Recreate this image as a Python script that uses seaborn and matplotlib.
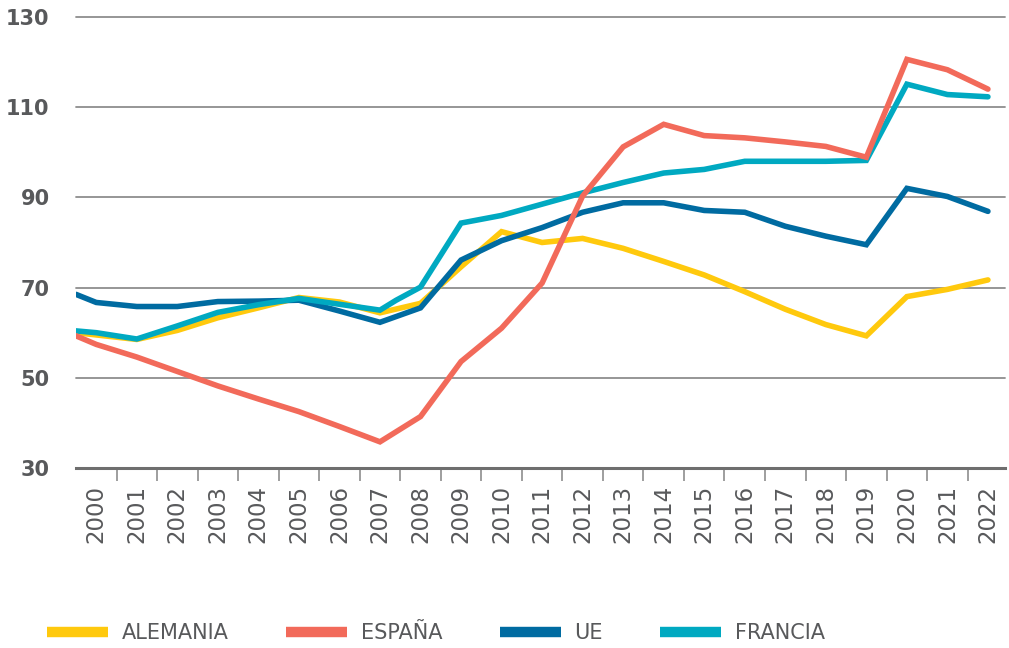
import numpy as np
import pandas as pd
import seaborn as sns
import matplotlib.pyplot as plt
from matplotlib.lines import Line2D

# categories (x axis)
years = list(range(2000, 2023))

# series; the lines start at the left edge of the plot (1999.5)
alemania_x = [1999.5] + years
alemania = [60.0, 59.5, 58.5, 60.5, 63.3, 65.5, 67.8, 66.8, 64.4, 66.5, 74.6, 82.4,
            80.0, 80.9, 78.7, 75.8, 72.8, 69.1, 65.2, 61.8, 59.3, 68.0, 69.6, 71.7]

espana_x = [1999.5] + years
espana = [59.3, 57.4, 54.6, 51.4, 48.2, 45.3, 42.5, 39.2, 35.8, 41.4, 53.6, 61.0,
          71.0, 90.3, 101.2, 106.2, 103.7, 103.2, 102.3, 101.3, 98.9, 120.6, 118.3, 114.0]

ue_x = [1999.5] + years
ue = [68.5, 66.7, 65.8, 65.8, 66.9, 67.0, 67.2, 64.8, 62.3, 65.5, 76.1, 80.4,
      83.3, 86.7, 88.8, 88.8, 87.1, 86.7, 83.6, 81.4, 79.5, 92.0, 90.2, 86.9]

francia_x = [1999.5] + years[:8] + [2007.4] + years[8:]
francia = [60.4, 60.0, 58.6, 61.5, 64.5, 66.2, 67.6, 66.3, 65.0, 67.2, 70.1, 84.3,
           86.0, 88.5, 91.0, 93.3, 95.4, 96.2, 98.0, 98.0, 98.0, 98.2, 115.1, 112.8, 112.3]

names = ['ALEMANIA', 'ESPAÑA', 'UE', 'FRANCIA']
colors = {'ALEMANIA': '#FFC90D', 'ESPAÑA': '#F26A5A', 'UE': '#006BA1', 'FRANCIA': '#00A9C1'}

sns.set_style('white')
plt.rcParams['font.family'] = ['DejaVu Sans']
text_col = '#58595B'

fig = plt.figure(figsize=(10.09, 6.48), dpi=100)
ax = fig.add_axes([0.0753, 0.2778, 0.9207, 0.696])

# drawing order as in the reference (yellow at the bottom, coral on top)
series = {
    'ALEMANIA': (alemania_x, alemania),
    'UE': (ue_x, ue),
    'FRANCIA': (francia_x, francia),
    'ESPAÑA': (espana_x, espana),
}
for z, (name, (xs, ys)) in enumerate(series.items()):
    df = pd.DataFrame({'x': xs, 'y': ys})
    sns.lineplot(data=df, x='x', y='y', ax=ax, sort=False, color=colors[name],
                 linewidth=4, zorder=3 + z, solid_joinstyle='miter')

ax.set_xlim(1999.5, 2022.42)
ax.set_ylim(30, 130)
ax.set_xlabel('')
ax.set_ylabel('')

# y axis
ax.set_yticks(range(30, 131, 20))
ax.set_yticklabels([str(v) for v in range(30, 131, 20)], fontsize=15,
                   fontweight='bold', color=text_col)
ax.tick_params(axis='y', length=0, pad=19)
ax.yaxis.grid(True, color='#8E8E8E', linewidth=1.3)
for gl in ax.get_ygridlines():
    gl.set_clip_on(False)

# x axis: labels at centers, small marks between categories
ax.set_xticks(years)
ax.set_xticklabels([str(y) for y in years], rotation=90, fontsize=16.5,
                   color=text_col)
ax.set_xticks([y + 0.5 for y in years[:-1]], minor=True)
ax.tick_params(axis='x', which='major', length=0, pad=12)
ax.tick_params(axis='x', which='minor', length=9.5, width=1.2, color='#8E8E8E',
               bottom=True)

for side in ['top', 'right', 'left']:
    ax.spines[side].set_visible(False)
ax.spines['bottom'].set_color('#6E6E6E')
ax.spines['bottom'].set_linewidth(2.2)

handles = [Line2D([0], [0], color=colors[n], linewidth=7.5, solid_capstyle='butt')
           for n in names]
leg = fig.legend(handles, names, loc='center left', bbox_to_anchor=(0.0466, 0.023),
                 ncol=4, frameon=False, fontsize=15, handlelength=2.93,
                 handletextpad=0.67, columnspacing=2.74, borderpad=0, borderaxespad=0)
for t in leg.get_texts():
    t.set_color(text_col)

fig.savefig('out.png', dpi=100)
